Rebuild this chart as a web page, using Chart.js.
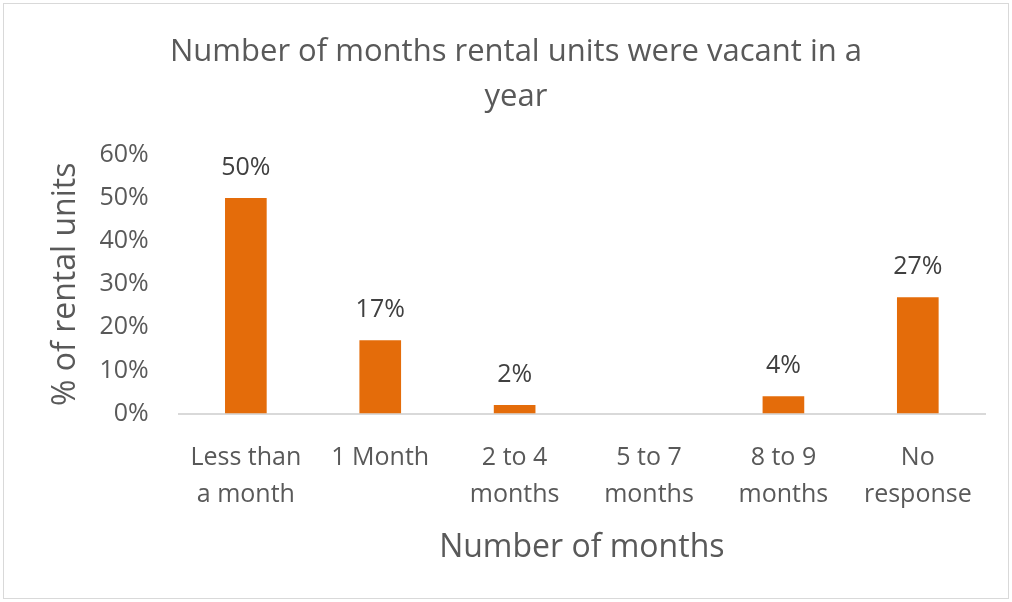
<!DOCTYPE html>
<html>
<head>
<meta charset="utf-8">
<script src="https://cdn.jsdelivr.net/npm/chart.js@4"></script>
<style>
  html, body { margin: 0; padding: 0; background: #fff; }
  #wrap {
    position: absolute; left: 3px; top: 3px;
    width: 1004px; height: 594px;
    border: 1px solid #d9d9d9;
  }
  canvas { display: block; }
</style>
</head>
<body>
<div id="wrap"><canvas id="vacancyChart" width="1004" height="594"></canvas></div>
<script>
const categories = [
  ["Less than", "a month"],
  "1 Month",
  ["2 to 4", "months"],
  ["5 to 7", "months"],
  ["8 to 9", "months"],
  ["No", "response"]
];
const vacantShare = [50, 17, 2, 0, 4, 27];
const yTicks = [0, 10, 20, 30, 40, 50, 60];

const textColor = "#595959";
const fontFamily = "'Open Sans', 'Noto Sans', sans-serif";

// draws the value above each bar (zero bars get no label)
const barLabels = {
  id: 'barLabels',
  afterDatasetsDraw(chart) {
    const ctx = chart.ctx;
    const meta = chart.getDatasetMeta(0);
    ctx.save();
    ctx.fillStyle = "#404040";
    ctx.font = "25px " + fontFamily;
    ctx.textAlign = 'center';
    ctx.textBaseline = 'middle';
    meta.data.forEach((bar, i) => {
      const v = vacantShare[i];
      if (!v) return;
      ctx.fillText(v + '%', bar.x, bar.y - 30);
    });
    ctx.restore();
  }
};

new Chart(document.getElementById('vacancyChart'), {
  type: 'bar',
  data: {
    labels: categories,
    datasets: [{
      data: vacantShare,
      backgroundColor: "#E46C0A",
      barPercentage: 0.31,
      categoryPercentage: 1.0
    }]
  },
  options: {
    responsive: false,
    animation: false,
    layout: { padding: { left: 43, right: 23, top: 10, bottom: 31 } },
    plugins: {
      legend: { display: false },
      tooltip: { enabled: false },
      title: {
        display: true,
        text: ["Number of months rental units were vacant in a", "year"],
        color: textColor,
        font: { family: fontFamily, size: 31, weight: 'normal', lineHeight: 1.45 },
        padding: { top: 16, bottom: 35 }
      }
    },
    scales: {
      x: {
        grid: { display: false },
        border: { display: true, color: "#d9d9d9", width: 2 },
        ticks: {
          color: textColor,
          font: { family: fontFamily, size: 25, lineHeight: 1.48 },
          maxRotation: 0,
          autoSkip: false,
          padding: 18
        },
        title: {
          display: true,
          text: "Number of months",
          color: textColor,
          font: { family: fontFamily, size: 32 },
          padding: { top: -3, bottom: 0 }
        }
      },
      y: {
        min: 0,
        max: 60,
        afterBuildTicks: axis => { axis.ticks = yTicks.map(v => ({ value: v })); },
        grid: { display: false },
        border: { display: false },
        ticks: {
          color: textColor,
          font: { family: fontFamily, size: 25 },
          padding: 22,
          callback: v => v + '%'
        },
        title: {
          display: true,
          text: "% of rental units",
          color: textColor,
          font: { family: fontFamily, size: 32 },
          padding: { top: 0, bottom: -8 }
        }
      }
    }
  },
  plugins: [barLabels]
});
</script>
</body>
</html>
